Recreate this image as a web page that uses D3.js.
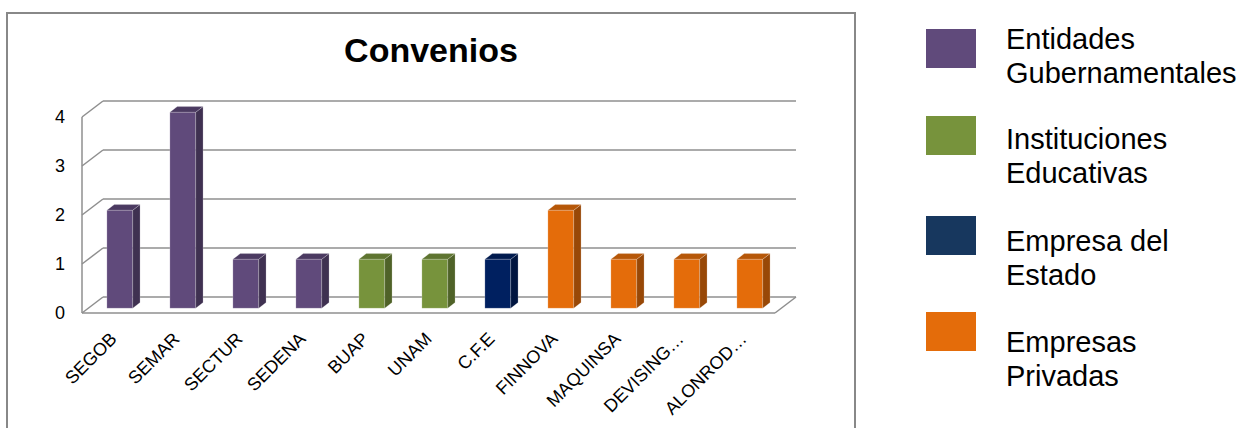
<!DOCTYPE html>
<html>
<head>
<meta charset="utf-8">
<script src="https://cdn.jsdelivr.net/npm/d3@7"></script>
<style>
  body { margin: 0; background: #fff; }
  text { font-family: "Liberation Sans", Arial, sans-serif; }
</style>
</head>
<body>
<svg id="chart"></svg>
<script>
// Chart data
const categories = ["SEGOB", "SEMAR", "SECTUR", "SEDENA", "BUAP", "UNAM", "C.F.E", "FINNOVA", "MAQUINSA", "DEVISING\u2026", "ALONROD\u2026"];
const values = [2, 4, 1, 1, 1, 1, 1, 2, 1, 1, 1];
const groupOf = [0, 0, 0, 0, 1, 1, 2, 3, 3, 3, 3];
const groupNames = [["Entidades", "Gubernamentales"], ["Instituciones", "Educativas"], ["Empresa del", "Estado"], ["Empresas", "Privadas"]];
const yTicks = [0, 1, 2, 3, 4];

// colours per group: front, side, top, legend
const groupColors = [
	{ front: "#604A7B", side: "#3F3151", top: "#4B3A61", legend: "#604A7B" },
	{ front: "#77933C", side: "#4F6228", top: "#5E7430", legend: "#77933C" },
	{ front: "#002060", side: "#001540", top: "#001A4E", legend: "#17375E" },
	{ front: "#E46C0A", side: "#984807", top: "#B65708", legend: "#E46C0A" },
];

const width = 1241;
const height = 428;
const svg = d3.select("#chart").attr("width", width).attr("height", height);

// chart border
svg.append("rect")
	.attr("x", 7).attr("y", 13)
	.attr("width", 848).attr("height", 440)
	.attr("fill", "none").attr("stroke", "#888").attr("stroke-width", 2);

// title
svg.append("text")
	.attr("x", 431).attr("y", 62)
	.attr("text-anchor", "middle")
	.attr("font-size", "34px").attr("font-weight", "bold")
	.text("Convenios");

// scales (front plane), depth offset for the 3d look
const x = d3.scaleBand().domain(categories).range([82, 775]).paddingInner(0.59).paddingOuter(0.295);
const y = d3.scaleLinear().domain([0, 4]).range([313, 117]);
const depthX = 21;
const depthY = -16;
const off = (t) => [depthX * t, depthY * t];

const grid = svg.append("g").attr("stroke", "#8f8f8f").attr("stroke-width", 1.5).attr("fill", "none");
const [bx, by] = off(1);

// left wall edge
grid.append("line")
	.attr("x1", 82).attr("x2", 82)
	.attr("y1", y(0)).attr("y2", y(4));

// gridlines: side diagonal + back wall line
yTicks.forEach((t) => {
	grid.append("line")
		.attr("x1", 82).attr("y1", y(t))
		.attr("x2", 82 + bx).attr("y2", y(t) + by);
	grid.append("line")
		.attr("x1", 82 + bx).attr("y1", y(t) + by)
		.attr("x2", x.range()[1] + bx).attr("y2", y(t) + by);
});

// floor front edge and right edge
grid.append("line")
	.attr("x1", 82).attr("y1", y(0))
	.attr("x2", x.range()[1]).attr("y2", y(0));
grid.append("line")
	.attr("x1", x.range()[1]).attr("y1", y(0))
	.attr("x2", x.range()[1] + bx).attr("y2", y(0) + by);

// y tick labels
svg.append("g")
	.selectAll("text")
	.data(yTicks)
	.enter()
	.append("text")
	.attr("x", 65)
	.attr("y", (d) => y(d))
	.attr("dy", "0.36em")
	.attr("text-anchor", "end")
	.attr("font-size", "18px")
	.text((d) => d);

// bars
const [fx, fy] = off(0.3);
const [sx, sy] = off(0.35);
const bw = x.bandwidth();

const bars = svg.append("g")
	.selectAll("g")
	.data(categories)
	.enter()
	.append("g")
	.attr("stroke", "rgba(255,255,255,0.25)")
	.attr("stroke-width", 0.8);

bars.each(function (c, i) {
	const g = d3.select(this);
	const col = groupColors[groupOf[i]];
	const x0 = x(c) + fx;
	const x1 = x0 + bw;
	const yt = y(values[i]) + fy;
	const yb = y(0) + fy;

	g.append("rect")
		.attr("x", x0).attr("y", yt)
		.attr("width", bw).attr("height", yb - yt)
		.attr("fill", col.front);
	g.append("polygon")
		.attr("points", [[x1, yb], [x1 + sx, yb + sy], [x1 + sx, yt + sy], [x1, yt]].join(" "))
		.attr("fill", col.side);
	g.append("polygon")
		.attr("points", [[x0, yt], [x1, yt], [x1 + sx, yt + sy], [x0 + sx, yt + sy]].join(" "))
		.attr("fill", col.top);
});

// category labels
svg.append("g")
	.selectAll("text")
	.data(categories)
	.enter()
	.append("text")
	.attr("transform", (d) => `translate(${x(d) + bw / 2 + fx - 2}, 340) rotate(-45)`)
	.attr("text-anchor", "end")
	.attr("font-size", "18px")
	.text((d) => d);

// legend
const legend = svg.append("g").attr("id", "legend");
const legendY = [29, 116, 216, 312];
const legendText = [49, 149, 251, 352];

groupNames.forEach((lines, i) => {
	legend.append("rect")
		.attr("x", 926).attr("y", legendY[i])
		.attr("width", 50).attr("height", 39)
		.attr("fill", groupColors[i].legend);
	lines.forEach((line, j) => {
		legend.append("text")
			.attr("x", 1006).attr("y", legendText[i] + j * 33.5)
			.attr("font-size", "29px")
			.text(line);
	});
});
</script>
</body>
</html>
